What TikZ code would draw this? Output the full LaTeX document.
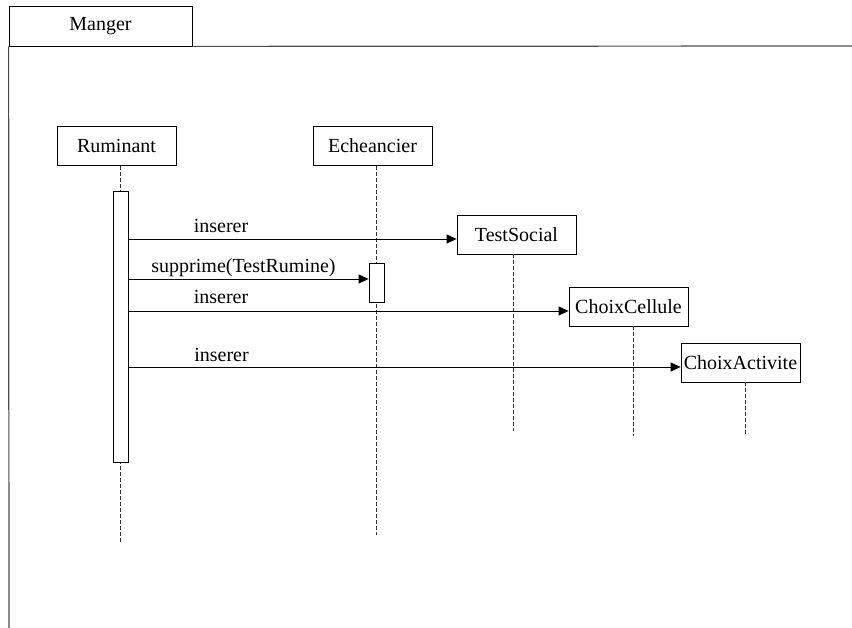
\documentclass[tikz,border=0pt]{standalone}
\usepackage{fontspec}
\setmainfont{Liberation Serif}
\usetikzlibrary{calc, arrows.meta}

\begin{document}
\begin{tikzpicture}[x=1pt, y=-1pt, font=\fontsize{20}{24}\selectfont,
        obj/.style={draw, line width=0.8pt, minimum width=119pt, minimum height=39pt, inner sep=0pt},
        bar/.style={draw, fill=white, line width=0.8pt, minimum width=15pt, inner sep=0pt},
        life/.style={black!80, line width=0.8pt, dash pattern=on 4pt off 2pt},
        msg/.style={line width=0.8pt, -{Triangle[length=10pt, width=9pt]}},
        lbl/.style={anchor=base, inner sep=0pt}]
                \useasboundingbox (0,0) rectangle (852,628);
                \coordinate (frameR) at (852,46);
                \coordinate (frameB) at (9,628);
                \node[obj, minimum width=183pt, minimum height=40pt] (tab) at (100.5,26) {Manger};
                \draw[black!70, line width=1.2pt] (tab.south west) -- (frameB) (tab.south east) -- (frameR);
                \node[obj] (rum) at (116.5,146) {Ruminant};
                \node[obj] (ech) at (372.5,146) {Echeancier};
                \node[obj] (soc) at (516.5,234.5) {TestSocial};
                \node[obj] (cel) at (628.5,306.5) {ChoixCellule};
                \node[obj] (act) at (740.5,362.5) {ChoixActivite};
                \coordinate (rumend) at (120.5,543);
                \coordinate (echend) at (376.5,535);
                \coordinate (socend) at (513,431);
                \coordinate (celend) at (633,436);
                \coordinate (actend) at (745,436);
                \draw[life] (rumend |- rum.south) -- (rumend);
                \draw[life] (echend |- ech.south) -- (echend);
                \draw[life] (socend |- soc.south) -- (socend);
                \draw[life] (celend |- cel.south) -- (celend);
                \draw[life] (actend |- act.south) -- (actend);
                \node[bar, minimum height=271pt] (rumbar) at (120.5,326.5) {};
                \node[bar, minimum height=39pt] (echbar) at (376.5,282.5) {};
                \draw[msg] ($(rumbar.east |- soc.west)+(0,4.5)$) -- ($(soc.west)+(0,4.5)$);
                \draw[msg] ($(rumbar.east |- echbar.west)+(0,-3.5)$) -- ($(echbar.west)+(0,-3.5)$);
                \draw[msg] ($(rumbar.east |- cel.west)+(0,4.5)$) -- ($(cel.west)+(0,4.5)$);
                \draw[msg] ($(rumbar.east |- act.west)+(0,4.5)$) -- ($(act.west)+(0,4.5)$);
                \node[lbl] (l1) at (221,233) {inserer};
                \node[lbl] (l2) at (243.5,273) {supprime(TestRumine)};
                \node[lbl] (l3) at (221,304) {inserer};
                \node[lbl] (l4) at (221.5,362) {inserer};
            \end{tikzpicture}
\end{document}
